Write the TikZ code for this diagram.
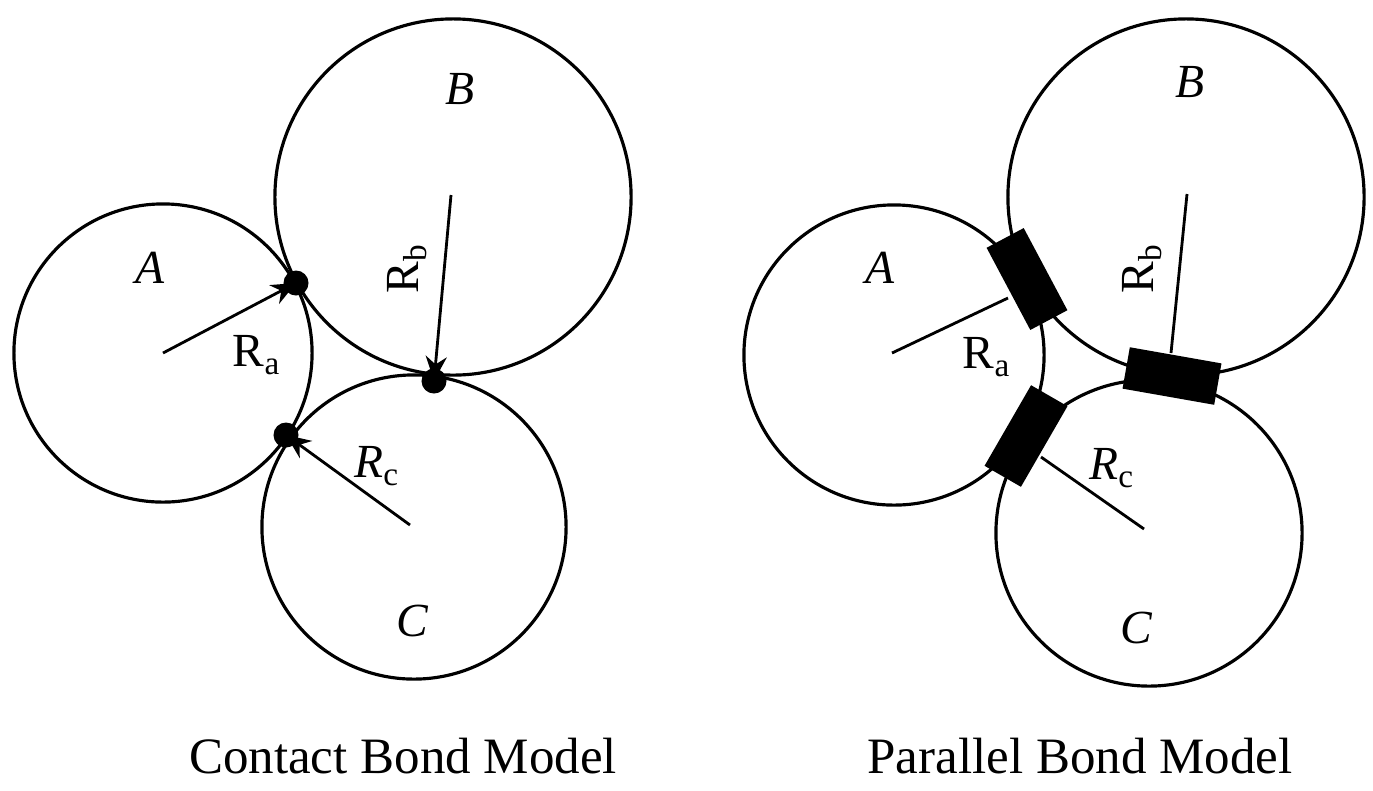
\documentclass[tikz,border=0pt]{standalone}
\usepackage{fontspec}
\setmainfont{Liberation Serif}
\usetikzlibrary{positioning,arrows.meta}

\begin{document}
\begin{tikzpicture}[x=0.01cm,y=-0.01cm,
ball/.style={draw,line width=0.9pt},
rad/.style={line width=0.8pt},
dot/.style={circle,fill=black,inner sep=0pt,minimum size=0.25cm},
bond/.style={rectangle,fill=black,inner sep=0pt,minimum width=0.93cm,minimum height=0.42cm},
lbl/.style={font=\fontsize{13.5}{16}\selectfont},
title/.style={font=\fontsize{14.5}{17}\selectfont}]
\useasboundingbox (0,0) rectangle (1373,790);
% contact bond model
\coordinate (ca) at (163,353);
\coordinate (cb) at (451,195);
\coordinate (cc) at (410,525);
\draw[ball] (163,353) circle (1.49cm);
\draw[ball] (453,197) circle (1.78cm);
\draw[ball] (414,527) circle (1.52cm);
\node (dab) [dot] at (296,283) {};
\node (dbc) [dot] at (434,381) {};
\node (dac) [dot] at (286,435) {};
\draw[rad,-{Stealth[length=7pt,width=6pt]}] (ca) -- (dab.center);
\draw[rad,-{Stealth[length=7pt,width=6pt]}] (cb) -- (dbc.center);
\draw[rad,-{Stealth[length=7pt,width=6pt]}] (cc) -- (dac.center);
\node (la) [lbl] at (150,268) {\textit{A}};
\node (lb) [lbl] at (460,89) {\textit{B}};
\node (lc) [lbl] at (413,621) {\textit{C}};
\node (ra) [lbl] at (257,355) {R$_{\mathrm{a}}$};
\node (rb) [lbl,rotate=90] at (407,268) {R$_{\mathrm{b}}$};
\node (rc) [lbl] at (377,466) {\textit{R}$_{\mathrm{c}}$};
\node (capl) [title] at (403,756) {Contact Bond Model};
% parallel bond model
\coordinate (pa) at (892,353);
\coordinate (pb) at (1187,194);
\coordinate (pc) at (1144,529);
\draw[ball] (894,355) circle (1.50cm);
\draw[ball] (1186,197) circle (1.78cm);
\draw[ball] (1149,533) circle (1.53cm);
\coordinate (ea) at (1008,298);
\coordinate (eb) at (1171,353);
\coordinate (ec) at (1041,457);
\draw[rad] (pa) -- (ea);
\draw[rad] (pb) -- (eb);
\draw[rad] (pc) -- (ec);
\node (bab) [bond,rotate=-62] at (1027,279) {};
\node (bbc) [bond,rotate=-10] at (1172,376) {};
\node (bac) [bond,rotate=60] at (1026,436) {};
\node (pla) [lbl] at (880,268) {\textit{A}};
\node (plb) [lbl] at (1190,82) {\textit{B}};
\node (plc) [lbl] at (1137,628) {\textit{C}};
\node (pra) [lbl] at (987,357) {R$_{\mathrm{a}}$};
\node (prb) [lbl,rotate=90] at (1142,268) {R$_{\mathrm{b}}$};
\node (prc) [lbl] at (1112,468) {\textit{R}$_{\mathrm{c}}$};
\node (capr) [title] at (1080,756) {Parallel Bond Model};
\end{tikzpicture}
\end{document}
